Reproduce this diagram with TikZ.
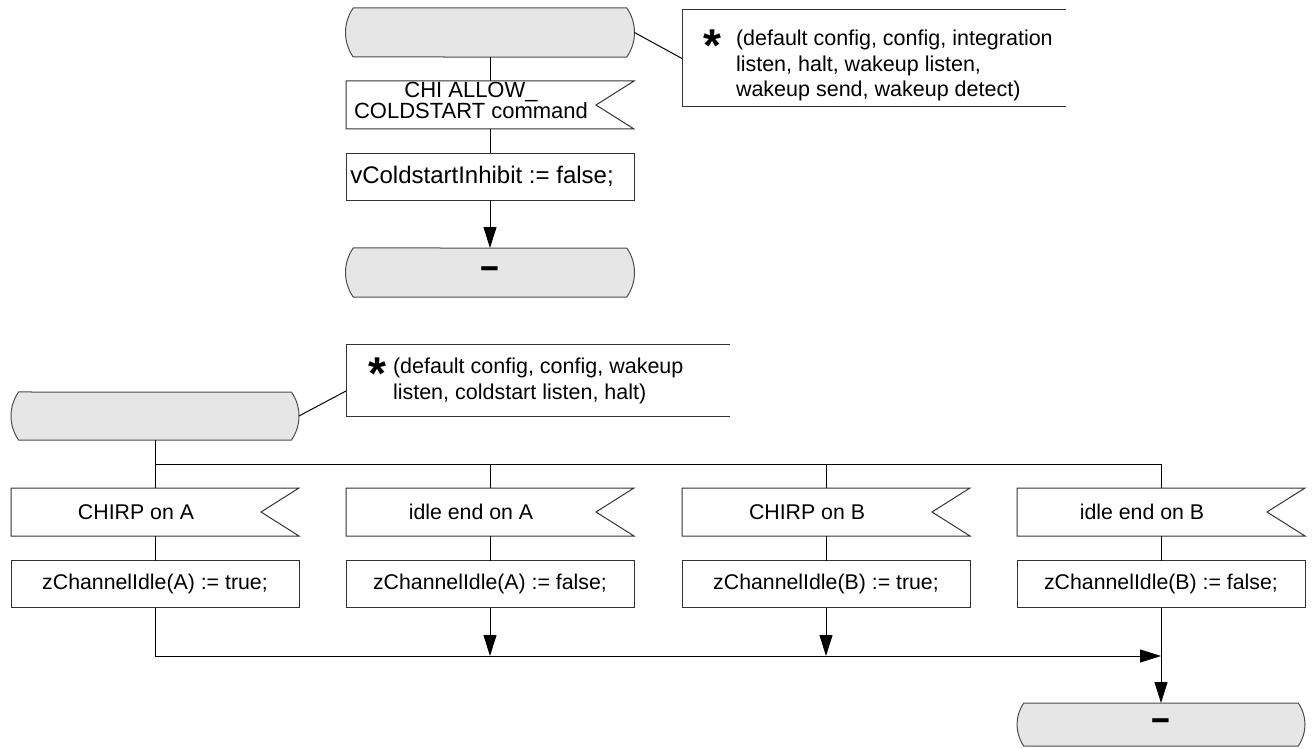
\documentclass[tikz,border=0pt]{standalone}
\usepackage{fontspec}
\setmainfont{Liberation Sans}
\newfontfamily\dashfont{DejaVu Sans}
\usetikzlibrary{shapes.misc,arrows.meta}

\definecolor{statefill}{HTML}{E6E6E6}

\begin{document}
\begin{tikzpicture}[x=1pt,y=-1pt,
  every node/.style={inner sep=0pt, outer sep=0pt},
  conn/.style={draw=black, line width=1pt},
  shapeline/.style={draw=black!80, line width=1pt},
  sdlstate/.style={rounded rectangle, rounded rectangle arc length=70,
    draw=black!70, line width=1pt, fill=statefill,
    minimum width=289pt, minimum height=49pt,
    font=\dashfont\fontsize{32}{32}\selectfont\bfseries},
  taskbox/.style={rectangle, shapeline, minimum width=288pt, minimum height=47pt,
    font=\fontsize{21.3}{25}\selectfont},
  insig/.style={rectangle, minimum width=288pt, minimum height=48pt, align=center,
    font=\fontsize{21.3}{25}\selectfont},
  flow/.style={conn, -{Triangle[length=21pt,width=13pt]}},
  startxt/.style={font=\fontsize{46}{46}\selectfont\bfseries, anchor=base},
  notetxt/.style={font=\fontsize{21.5}{25.5}\selectfont, align=left, anchor=north west},
]
\useasboundingbox (0,0) rectangle (1314,749);

% ---------- upper transition ----------
\node[sdlstate] (st0) at (490,32.5) {};
\node[insig, font=\fontsize{22}{16.5}\selectfont, text depth=10pt] (sig0) at (490,105)
  {CHI ALLOW\_\hspace*{38pt}\\COLDSTART command\hspace*{38pt}};
\node[taskbox, font=\fontsize{24}{28}\selectfont] (box0) at (490,176.5)
  {vColdstartInhibit := false;\hspace*{16pt}};
\node[sdlstate] (st1) at (490,272.5) {\scalebox{1.3}[1]{\textendash}};

\node[minimum width=384pt, minimum height=97pt] (cm0) at (874,58.5) {};
\node[startxt] (star0) at (712.5,62) {*};
\node[notetxt] (txt0) at (736,30)
  {(default config, config, integration\\listen, halt, wakeup listen,\\wakeup send, wakeup detect)};

\draw[shapeline] (cm0.north east) -- (cm0.north west) -- (cm0.south west) -- (cm0.south east);
\draw[conn] (st0.east) -- (cm0.west);
\draw[conn] (st0.south) -- (sig0.north);
\draw[conn] (sig0.south) -- (box0.north);
\draw[flow] (box0.south) -- (st1.north);

% ---------- lower transition ----------
\node[sdlstate, minimum width=288pt, minimum height=48pt] (st2) at (155,416) {};

\node[minimum width=384pt, minimum height=72pt] (cm1) at (538,380) {};
\node[startxt] (star1) at (377.5,389) {*};
\node[notetxt, font=\fontsize{21.5}{26}\selectfont] (txt1) at (393,358)
  {(default config, config, wakeup\\listen, coldstart listen, halt)};
\draw[shapeline] (cm1.north east) -- (cm1.north west) -- (cm1.south west) -- (cm1.south east);
\draw[conn] (st2.east) -- ([yshift=-11pt]cm1.west);

\node[insig] (sig1) at (155,512)  {CHIRP on A\hspace*{38pt}};
\node[insig] (sig2) at (490,512)  {idle end on A\hspace*{38pt}};
\node[insig] (sig3) at (826,512)  {CHIRP on B\hspace*{38pt}};
\node[insig] (sig4) at (1161,512) {idle end on B\hspace*{38pt}};

\node[taskbox] (box1) at (155,584)  {zChannelIdle(A) := true;};
\node[taskbox] (box2) at (490,584)  {zChannelIdle(A) := false;};
\node[taskbox] (box3) at (826,584)  {zChannelIdle(B) := true;};
\node[taskbox] (box4) at (1161,584) {zChannelIdle(B) := false;};

\node[sdlstate, minimum width=288pt, minimum height=43pt] (st3) at (1161,724.5)
  {\raisebox{-2pt}{\scalebox{1.3}[1]{\textendash}}};

% input-signal outlines with the notch on the right
\foreach \n in {sig0,sig1,sig2,sig3,sig4}
  \draw[shapeline] (\n.north west) -- (\n.north east) -- ([xshift=-38pt]\n.east)
    -- (\n.south east) -- (\n.south west) -- cycle;

\coordinate (bus) at (155,464);
\coordinate (jn) at (1161,656);

\draw[conn] (st2.south) -- (sig1.north);
\draw[conn] (bus) -| (sig4.north);
\draw[conn] (sig2.north |- bus) -- (sig2.north);
\draw[conn] (sig3.north |- bus) -- (sig3.north);
\foreach \i in {1,2,3,4}
  \draw[conn] (sig\i.south) -- (box\i.north);

\draw[flow] (box1.south) |- (jn);
\draw[flow] (box2.south) -- (box2.south |- jn);
\draw[flow] (box3.south) -- (box3.south |- jn);
\draw[flow] (box4.south) -- (st3.north);
\end{tikzpicture}
\end{document}
